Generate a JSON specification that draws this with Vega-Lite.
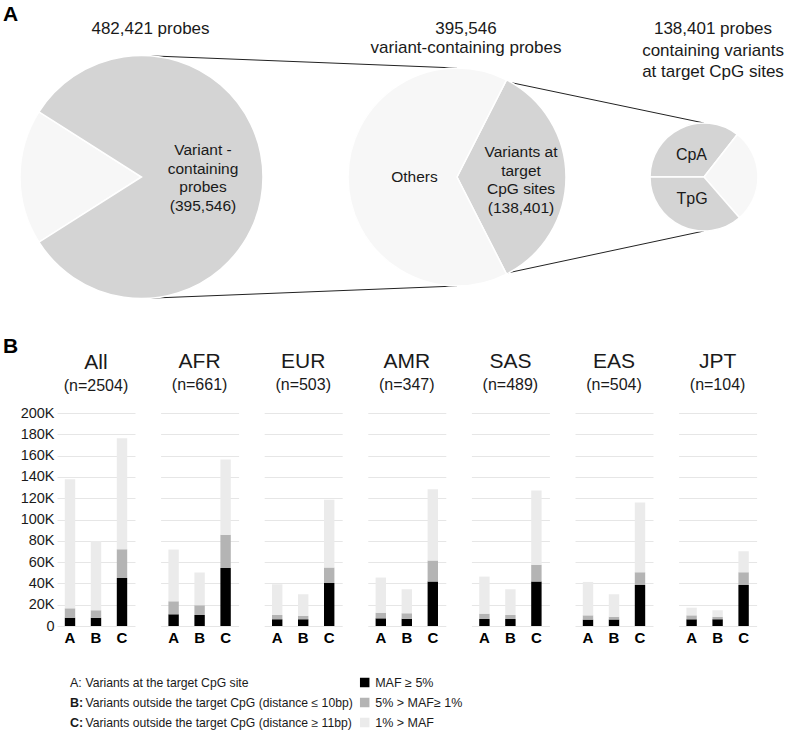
{
  "$schema": "https://vega.github.io/schema/vega-lite/v6.json",
  "padding": {"left": 3, "top": 4, "right": 0, "bottom": 0},
  "background": "white",
  "spacing": 4,
  "resolve": {"scale": {"color": "independent"}},
  "config": {
    "view": {"stroke": null},
    "font": "Liberation Sans",
    "title": {"font": "Liberation Sans", "fontSize": 21, "fontWeight": "normal", "color": "#1a1a1a", "subtitleFont": "Liberation Sans", "subtitleFontSize": 16, "subtitleColor": "#1a1a1a", "subtitlePadding": 5, "frame": "group", "anchor": "middle", "offset": 20},
    "axis": {"labelFont": "Liberation Sans", "titleFont": "Liberation Sans"},
    "text": {"font": "Liberation Sans"}
  },
  "datasets": {
    "pies": [
      {"stage": 1, "tier": 1, "slice": "Other probes", "shade": "light", "probes": 86875, "ord": 1, "label": ""},
      {"stage": 1, "tier": 1, "slice": "Variant-containing probes", "shade": "gray", "probes": 395546, "ord": 2, "label": "Variant -\ncontaining\nprobes\n(395,546)"},
      {"stage": 2, "tier": 1, "slice": "Variants at target CpG sites", "shade": "gray", "probes": 138401, "ord": 1, "label": "Variants at\ntarget\nCpG sites\n(138,401)"},
      {"stage": 2, "tier": 1, "slice": "Others", "shade": "light", "probes": 257145, "ord": 2, "label": "Others"},
      {"stage": 3, "tier": 1, "slice": "CpA", "shade": "gray", "probes": 49200, "ord": 1, "label": "CpA"},
      {"stage": 3, "tier": 1, "slice": "Other", "shade": "light", "probes": 38830, "ord": 2, "label": ""},
      {"stage": 3, "tier": 1, "slice": "TpG", "shade": "gray", "probes": 50371, "ord": 3, "label": "TpG"}
    ],
    "titles": [
      {"stage": 1, "tier": 0, "label": "482,421 probes"},
      {"stage": 2, "tier": 0, "label": "395,546\nvariant-containing probes"},
      {"stage": 3, "tier": 0, "label": "138,401 probes\ncontaining variants\nat target CpG sites"}
    ],
    "links": [
      {"from": 1, "to": 2, "fromAnchor": 1, "toAnchor": 2},
      {"from": 1, "to": 2, "fromAnchor": 8, "toAnchor": 7},
      {"from": 2, "to": 3, "fromAnchor": 3, "toAnchor": 4},
      {"from": 2, "to": 3, "fromAnchor": 6, "toAnchor": 5}
    ],
    "bars": [
      {"pop": "All", "cat": "A", "maf": "MAF ≥ 5%", "ord": 1, "count": 7800},
      {"pop": "All", "cat": "A", "maf": "5% > MAF≥ 1%", "ord": 2, "count": 8800},
      {"pop": "All", "cat": "A", "maf": "1% > MAF", "ord": 3, "count": 121300},
      {"pop": "All", "cat": "B", "maf": "MAF ≥ 5%", "ord": 1, "count": 7800},
      {"pop": "All", "cat": "B", "maf": "5% > MAF≥ 1%", "ord": 2, "count": 6900},
      {"pop": "All", "cat": "B", "maf": "1% > MAF", "ord": 3, "count": 65200},
      {"pop": "All", "cat": "C", "maf": "MAF ≥ 5%", "ord": 1, "count": 45100},
      {"pop": "All", "cat": "C", "maf": "5% > MAF≥ 1%", "ord": 2, "count": 27000},
      {"pop": "All", "cat": "C", "maf": "1% > MAF", "ord": 3, "count": 104100},
      {"pop": "AFR", "cat": "A", "maf": "MAF ≥ 5%", "ord": 1, "count": 11000},
      {"pop": "AFR", "cat": "A", "maf": "5% > MAF≥ 1%", "ord": 2, "count": 12200},
      {"pop": "AFR", "cat": "A", "maf": "1% > MAF", "ord": 3, "count": 48600},
      {"pop": "AFR", "cat": "B", "maf": "MAF ≥ 5%", "ord": 1, "count": 10300},
      {"pop": "AFR", "cat": "B", "maf": "5% > MAF≥ 1%", "ord": 2, "count": 9100},
      {"pop": "AFR", "cat": "B", "maf": "1% > MAF", "ord": 3, "count": 30800},
      {"pop": "AFR", "cat": "C", "maf": "MAF ≥ 5%", "ord": 1, "count": 54500},
      {"pop": "AFR", "cat": "C", "maf": "5% > MAF≥ 1%", "ord": 2, "count": 31100},
      {"pop": "AFR", "cat": "C", "maf": "1% > MAF", "ord": 3, "count": 70800},
      {"pop": "EUR", "cat": "A", "maf": "MAF ≥ 5%", "ord": 1, "count": 6300},
      {"pop": "EUR", "cat": "A", "maf": "5% > MAF≥ 1%", "ord": 2, "count": 4000},
      {"pop": "EUR", "cat": "A", "maf": "1% > MAF", "ord": 3, "count": 28900},
      {"pop": "EUR", "cat": "B", "maf": "MAF ≥ 5%", "ord": 1, "count": 6300},
      {"pop": "EUR", "cat": "B", "maf": "5% > MAF≥ 1%", "ord": 2, "count": 3400},
      {"pop": "EUR", "cat": "B", "maf": "1% > MAF", "ord": 3, "count": 20100},
      {"pop": "EUR", "cat": "C", "maf": "MAF ≥ 5%", "ord": 1, "count": 40400},
      {"pop": "EUR", "cat": "C", "maf": "5% > MAF≥ 1%", "ord": 2, "count": 14500},
      {"pop": "EUR", "cat": "C", "maf": "1% > MAF", "ord": 3, "count": 63600},
      {"pop": "AMR", "cat": "A", "maf": "MAF ≥ 5%", "ord": 1, "count": 7200},
      {"pop": "AMR", "cat": "A", "maf": "5% > MAF≥ 1%", "ord": 2, "count": 5300},
      {"pop": "AMR", "cat": "A", "maf": "1% > MAF", "ord": 3, "count": 33000},
      {"pop": "AMR", "cat": "B", "maf": "MAF ≥ 5%", "ord": 1, "count": 6900},
      {"pop": "AMR", "cat": "B", "maf": "5% > MAF≥ 1%", "ord": 2, "count": 5000},
      {"pop": "AMR", "cat": "B", "maf": "1% > MAF", "ord": 3, "count": 22600},
      {"pop": "AMR", "cat": "C", "maf": "MAF ≥ 5%", "ord": 1, "count": 41700},
      {"pop": "AMR", "cat": "C", "maf": "5% > MAF≥ 1%", "ord": 2, "count": 19700},
      {"pop": "AMR", "cat": "C", "maf": "1% > MAF", "ord": 3, "count": 67100},
      {"pop": "SAS", "cat": "A", "maf": "MAF ≥ 5%", "ord": 1, "count": 6600},
      {"pop": "SAS", "cat": "A", "maf": "5% > MAF≥ 1%", "ord": 2, "count": 5000},
      {"pop": "SAS", "cat": "A", "maf": "1% > MAF", "ord": 3, "count": 34800},
      {"pop": "SAS", "cat": "B", "maf": "MAF ≥ 5%", "ord": 1, "count": 6600},
      {"pop": "SAS", "cat": "B", "maf": "5% > MAF≥ 1%", "ord": 2, "count": 3700},
      {"pop": "SAS", "cat": "B", "maf": "1% > MAF", "ord": 3, "count": 24200},
      {"pop": "SAS", "cat": "C", "maf": "MAF ≥ 5%", "ord": 1, "count": 41700},
      {"pop": "SAS", "cat": "C", "maf": "5% > MAF≥ 1%", "ord": 2, "count": 15700},
      {"pop": "SAS", "cat": "C", "maf": "1% > MAF", "ord": 3, "count": 69900},
      {"pop": "EAS", "cat": "A", "maf": "MAF ≥ 5%", "ord": 1, "count": 6000},
      {"pop": "EAS", "cat": "A", "maf": "5% > MAF≥ 1%", "ord": 2, "count": 4000},
      {"pop": "EAS", "cat": "A", "maf": "1% > MAF", "ord": 3, "count": 31400},
      {"pop": "EAS", "cat": "B", "maf": "MAF ≥ 5%", "ord": 1, "count": 6000},
      {"pop": "EAS", "cat": "B", "maf": "5% > MAF≥ 1%", "ord": 2, "count": 2800},
      {"pop": "EAS", "cat": "B", "maf": "1% > MAF", "ord": 3, "count": 21000},
      {"pop": "EAS", "cat": "C", "maf": "MAF ≥ 5%", "ord": 1, "count": 38600},
      {"pop": "EAS", "cat": "C", "maf": "5% > MAF≥ 1%", "ord": 2, "count": 11900},
      {"pop": "EAS", "cat": "C", "maf": "1% > MAF", "ord": 3, "count": 65500},
      {"pop": "JPT", "cat": "A", "maf": "MAF ≥ 5%", "ord": 1, "count": 6300},
      {"pop": "JPT", "cat": "A", "maf": "5% > MAF≥ 1%", "ord": 2, "count": 3700},
      {"pop": "JPT", "cat": "A", "maf": "1% > MAF", "ord": 3, "count": 7200},
      {"pop": "JPT", "cat": "B", "maf": "MAF ≥ 5%", "ord": 1, "count": 6300},
      {"pop": "JPT", "cat": "B", "maf": "5% > MAF≥ 1%", "ord": 2, "count": 2500},
      {"pop": "JPT", "cat": "B", "maf": "1% > MAF", "ord": 3, "count": 5900},
      {"pop": "JPT", "cat": "C", "maf": "MAF ≥ 5%", "ord": 1, "count": 38600},
      {"pop": "JPT", "cat": "C", "maf": "5% > MAF≥ 1%", "ord": 2, "count": 11900},
      {"pop": "JPT", "cat": "C", "maf": "1% > MAF", "ord": 3, "count": 19700}
    ],
    "keys": [
      {"col": "key", "row": 1, "letter": "A:", "text": "Variants at the target CpG site"},
      {"col": "key", "row": 2, "letter": "B:", "text": "Variants outside the target CpG (distance ≤ 10bp)"},
      {"col": "key", "row": 3, "letter": "C:", "text": "Variants outside the target CpG (distance ≥ 11bp)"}
    ],
    "mafKey": [
      {"col": "legend", "row": 1, "maf": "MAF ≥ 5%"},
      {"col": "legend", "row": 2, "maf": "5% > MAF≥ 1%"},
      {"col": "legend", "row": 3, "maf": "1% > MAF"}
    ]
  },
  "vconcat": [
    {
      "width": 733,
      "height": 294,
      "title": {"text": "A", "anchor": "start", "fontSize": 21, "fontWeight": "bold", "color": "#000000", "offset": -5, "frame": "group", "dx": -54},
      "resolve": {"scale": {"theta": "independent", "y": "independent", "x": "independent"}},
      "layer": [
        {
          "data": {"name": "links"},
          "mark": {"type": "rule", "color": "#222222", "strokeWidth": 1},
          "encoding": {
            "x": {"field": "from", "type": "quantitative", "scale": {"domain": [1, 2, 3], "range": [84.5, 400, 647], "zero": false, "nice": false}, "axis": null},
            "x2": {"field": "to"},
            "y": {"field": "fromAnchor", "type": "quantitative", "scale": {"domain": [1, 2, 3, 4, 5, 6, 7, 8], "range": [17.5, 30, 33.3, 85, 193, 245.7, 248, 260.5], "zero": false, "nice": false}, "axis": null},
            "y2": {"field": "toAnchor"}
          }
        },
        {
          "data": {"name": "pies"},
          "transform": [{"filter": "datum.stage === 1"}],
          "encoding": {
            "x": {"field": "stage", "type": "quantitative", "scale": {"domain": [1, 2, 3], "range": [84.5, 400, 647], "zero": false, "nice": false}, "axis": null},
            "y": {"field": "tier", "type": "quantitative", "scale": {"domain": [0, 1], "range": [-4, 139], "zero": false, "nice": false}, "axis": null},
            "theta": {"field": "probes", "type": "quantitative", "stack": true, "scale": {"range": [4.1467, 10.4299]}},
            "order": {"field": "ord", "type": "quantitative"},
            "color": {"field": "shade", "type": "nominal", "scale": {"domain": ["gray", "light"], "range": ["#d4d4d4", "#f7f7f7"]}, "legend": null}
          },
          "layer": [
            {"mark": {"type": "arc", "outerRadius": 121.5, "stroke": "white", "strokeWidth": 1.5}},
            {"mark": {"type": "text", "radius": 61.5, "fontSize": 15.5, "lineBreak": "\n", "lineHeight": 18.5, "baseline": "middle", "align": "center", "dy": -27},
             "encoding": {"text": {"field": "label"}, "color": {"value": "#1a1a1a"}}}
          ]
        },
        {
          "data": {"name": "pies"},
          "transform": [{"filter": "datum.stage === 2"}],
          "encoding": {
            "x": {"field": "stage", "type": "quantitative", "scale": {"domain": [1, 2, 3], "range": [84.5, 400, 647], "zero": false, "nice": false}, "axis": null},
            "y": {"field": "tier", "type": "quantitative", "scale": {"domain": [0, 1], "range": [-4, 139], "zero": false, "nice": false}, "axis": null},
            "theta": {"field": "probes", "type": "quantitative", "stack": true, "scale": {"range": [0.4716, 6.7548]}},
            "order": {"field": "ord", "type": "quantitative"},
            "color": {"field": "shade", "type": "nominal", "scale": {"domain": ["gray", "light"], "range": ["#d4d4d4", "#f7f7f7"]}, "legend": null}
          },
          "layer": [
            {"mark": {"type": "arc", "outerRadius": 109, "stroke": "white", "strokeWidth": 1.5}},
            {"mark": {"type": "text", "radius": 64, "fontSize": 15.5, "lineBreak": "\n", "lineHeight": 18.5, "baseline": "middle", "align": "center", "dy": -25},
             "encoding": {"text": {"condition": {"test": "datum.shade === 'gray'", "field": "label"}, "value": ""}, "color": {"value": "#1a1a1a"}}},
            {"mark": {"type": "text", "radius": 42.5, "fontSize": 15.5, "baseline": "middle", "align": "center"},
             "encoding": {"text": {"condition": {"test": "datum.shade === 'light'", "field": "label"}, "value": ""}, "color": {"value": "#1a1a1a"}}}
          ]
        },
        {
          "data": {"name": "pies"},
          "transform": [{"filter": "datum.stage === 3"}],
          "encoding": {
            "x": {"field": "stage", "type": "quantitative", "scale": {"domain": [1, 2, 3], "range": [84.5, 400, 647], "zero": false, "nice": false}, "axis": null},
            "y": {"field": "tier", "type": "quantitative", "scale": {"domain": [0, 1], "range": [-4, 139], "zero": false, "nice": false}, "axis": null},
            "theta": {"field": "probes", "type": "quantitative", "stack": true, "scale": {"range": [4.7124, 10.9956]}},
            "order": {"field": "ord", "type": "quantitative"},
            "color": {"field": "shade", "type": "nominal", "scale": {"domain": ["gray", "light"], "range": ["#d4d4d4", "#f7f7f7"]}, "legend": null}
          },
          "layer": [
            {"mark": {"type": "arc", "outerRadius": 54, "stroke": "white", "strokeWidth": 1.5}},
            {"mark": {"type": "text", "radius": 24, "fontSize": 16, "baseline": "middle", "align": "center", "dx": -2},
             "encoding": {"text": {"field": "label"}, "color": {"value": "#1a1a1a"}}}
          ]
        },
        {
          "data": {"name": "titles"},
          "transform": [{"filter": "datum.stage < 3"}],
          "mark": {"type": "text", "fontSize": 17, "lineBreak": "\n", "lineHeight": 18.7, "baseline": "alphabetic", "align": "center", "dx": 9, "color": "#1a1a1a"},
          "encoding": {
            "x": {"field": "stage", "type": "quantitative", "scale": {"domain": [1, 2, 3], "range": [84.5, 400, 647], "zero": false, "nice": false}, "axis": null},
            "y": {"field": "tier", "type": "quantitative", "scale": {"domain": [0, 1], "range": [-4, 139], "zero": false, "nice": false}, "axis": null},
            "text": {"field": "label"}
          }
        },
        {
          "data": {"name": "titles"},
          "transform": [{"filter": "datum.stage === 3"}],
          "mark": {"type": "text", "fontSize": 17, "lineBreak": "\n", "lineHeight": 21.5, "baseline": "alphabetic", "align": "center", "dx": 9, "color": "#1a1a1a"},
          "encoding": {
            "x": {"field": "stage", "type": "quantitative", "scale": {"domain": [1, 2, 3], "range": [84.5, 400, 647], "zero": false, "nice": false}, "axis": null},
            "y": {"field": "tier", "type": "quantitative", "scale": {"domain": [0, 1], "range": [-4, 139], "zero": false, "nice": false}, "axis": null},
            "text": {"field": "label"}
          }
        }
      ]
    },
    {
      "spacing": 25.6,
      "title": {"text": "B", "anchor": "start", "frame": "group", "dx": -54, "offset": -6, "fontSize": 21, "fontWeight": "bold", "color": "#000000"},
      "hconcat": [
        {
          "width": 78, "height": 213,
          "title": {"text": "All", "subtitle": "(n=2504)", "dy": 9},
          "data": {"name": "bars"},
          "transform": [{"filter": "datum.pop === 'All'"}],
          "mark": {"type": "bar"},
          "encoding": {
            "x": {"field": "cat", "type": "nominal", "scale": {"domain": ["A", "B", "C"], "paddingInner": 0.6, "paddingOuter": 0.3}, "axis": {"title": null, "domain": false, "ticks": false, "labelAngle": 0, "labelFontWeight": "bold", "labelFontSize": 15, "labelColor": "#000000", "labelPadding": 4}},
            "y": {"field": "count", "type": "quantitative", "stack": "zero", "scale": {"domain": [0, 200000], "nice": false}, "axis": {"values": [0, 20000, 40000, 60000, 80000, 100000, 120000, 140000, 160000, 180000, 200000], "labelExpr": "datum.value === 0 ? '0' : (datum.value / 1000) + 'K'", "grid": true, "gridColor": "#e6e6e6", "domain": false, "ticks": false, "labelPadding": 3, "labelFontSize": 14.5, "labelColor": "#1a1a1a", "title": null}},
            "color": {"field": "maf", "type": "nominal", "scale": {"domain": ["MAF ≥ 5%", "5% > MAF≥ 1%", "1% > MAF"], "range": ["#000000", "#b4b4b4", "#ebebeb"]}, "legend": null},
            "order": {"field": "ord", "type": "quantitative"}
          }
        },
        {
          "width": 78, "height": 213,
          "title": {"text": "AFR", "subtitle": "(n=661)"},
          "data": {"name": "bars"},
          "transform": [{"filter": "datum.pop === 'AFR'"}],
          "mark": {"type": "bar"},
          "encoding": {
            "x": {"field": "cat", "type": "nominal", "scale": {"domain": ["A", "B", "C"], "paddingInner": 0.6, "paddingOuter": 0.3}, "axis": {"title": null, "domain": false, "ticks": false, "labelAngle": 0, "labelFontWeight": "bold", "labelFontSize": 15, "labelColor": "#000000", "labelPadding": 4}},
            "y": {"field": "count", "type": "quantitative", "stack": "zero", "scale": {"domain": [0, 200000], "nice": false}, "axis": {"values": [0, 20000, 40000, 60000, 80000, 100000, 120000, 140000, 160000, 180000, 200000], "grid": true, "gridColor": "#e6e6e6", "domain": false, "ticks": false, "labels": false, "title": null}},
            "color": {"field": "maf", "type": "nominal", "scale": {"domain": ["MAF ≥ 5%", "5% > MAF≥ 1%", "1% > MAF"], "range": ["#000000", "#b4b4b4", "#ebebeb"]}, "legend": null},
            "order": {"field": "ord", "type": "quantitative"}
          }
        },
        {
          "width": 78, "height": 213,
          "title": {"text": "EUR", "subtitle": "(n=503)"},
          "data": {"name": "bars"},
          "transform": [{"filter": "datum.pop === 'EUR'"}],
          "mark": {"type": "bar"},
          "encoding": {
            "x": {"field": "cat", "type": "nominal", "scale": {"domain": ["A", "B", "C"], "paddingInner": 0.6, "paddingOuter": 0.3}, "axis": {"title": null, "domain": false, "ticks": false, "labelAngle": 0, "labelFontWeight": "bold", "labelFontSize": 15, "labelColor": "#000000", "labelPadding": 4}},
            "y": {"field": "count", "type": "quantitative", "stack": "zero", "scale": {"domain": [0, 200000], "nice": false}, "axis": {"values": [0, 20000, 40000, 60000, 80000, 100000, 120000, 140000, 160000, 180000, 200000], "grid": true, "gridColor": "#e6e6e6", "domain": false, "ticks": false, "labels": false, "title": null}},
            "color": {"field": "maf", "type": "nominal", "scale": {"domain": ["MAF ≥ 5%", "5% > MAF≥ 1%", "1% > MAF"], "range": ["#000000", "#b4b4b4", "#ebebeb"]}, "legend": null},
            "order": {"field": "ord", "type": "quantitative"}
          }
        },
        {
          "width": 78, "height": 213,
          "title": {"text": "AMR", "subtitle": "(n=347)"},
          "data": {"name": "bars"},
          "transform": [{"filter": "datum.pop === 'AMR'"}],
          "mark": {"type": "bar"},
          "encoding": {
            "x": {"field": "cat", "type": "nominal", "scale": {"domain": ["A", "B", "C"], "paddingInner": 0.6, "paddingOuter": 0.3}, "axis": {"title": null, "domain": false, "ticks": false, "labelAngle": 0, "labelFontWeight": "bold", "labelFontSize": 15, "labelColor": "#000000", "labelPadding": 4}},
            "y": {"field": "count", "type": "quantitative", "stack": "zero", "scale": {"domain": [0, 200000], "nice": false}, "axis": {"values": [0, 20000, 40000, 60000, 80000, 100000, 120000, 140000, 160000, 180000, 200000], "grid": true, "gridColor": "#e6e6e6", "domain": false, "ticks": false, "labels": false, "title": null}},
            "color": {"field": "maf", "type": "nominal", "scale": {"domain": ["MAF ≥ 5%", "5% > MAF≥ 1%", "1% > MAF"], "range": ["#000000", "#b4b4b4", "#ebebeb"]}, "legend": null},
            "order": {"field": "ord", "type": "quantitative"}
          }
        },
        {
          "width": 78, "height": 213,
          "title": {"text": "SAS", "subtitle": "(n=489)"},
          "data": {"name": "bars"},
          "transform": [{"filter": "datum.pop === 'SAS'"}],
          "mark": {"type": "bar"},
          "encoding": {
            "x": {"field": "cat", "type": "nominal", "scale": {"domain": ["A", "B", "C"], "paddingInner": 0.6, "paddingOuter": 0.3}, "axis": {"title": null, "domain": false, "ticks": false, "labelAngle": 0, "labelFontWeight": "bold", "labelFontSize": 15, "labelColor": "#000000", "labelPadding": 4}},
            "y": {"field": "count", "type": "quantitative", "stack": "zero", "scale": {"domain": [0, 200000], "nice": false}, "axis": {"values": [0, 20000, 40000, 60000, 80000, 100000, 120000, 140000, 160000, 180000, 200000], "grid": true, "gridColor": "#e6e6e6", "domain": false, "ticks": false, "labels": false, "title": null}},
            "color": {"field": "maf", "type": "nominal", "scale": {"domain": ["MAF ≥ 5%", "5% > MAF≥ 1%", "1% > MAF"], "range": ["#000000", "#b4b4b4", "#ebebeb"]}, "legend": null},
            "order": {"field": "ord", "type": "quantitative"}
          }
        },
        {
          "width": 78, "height": 213,
          "title": {"text": "EAS", "subtitle": "(n=504)"},
          "data": {"name": "bars"},
          "transform": [{"filter": "datum.pop === 'EAS'"}],
          "mark": {"type": "bar"},
          "encoding": {
            "x": {"field": "cat", "type": "nominal", "scale": {"domain": ["A", "B", "C"], "paddingInner": 0.6, "paddingOuter": 0.3}, "axis": {"title": null, "domain": false, "ticks": false, "labelAngle": 0, "labelFontWeight": "bold", "labelFontSize": 15, "labelColor": "#000000", "labelPadding": 4}},
            "y": {"field": "count", "type": "quantitative", "stack": "zero", "scale": {"domain": [0, 200000], "nice": false}, "axis": {"values": [0, 20000, 40000, 60000, 80000, 100000, 120000, 140000, 160000, 180000, 200000], "grid": true, "gridColor": "#e6e6e6", "domain": false, "ticks": false, "labels": false, "title": null}},
            "color": {"field": "maf", "type": "nominal", "scale": {"domain": ["MAF ≥ 5%", "5% > MAF≥ 1%", "1% > MAF"], "range": ["#000000", "#b4b4b4", "#ebebeb"]}, "legend": null},
            "order": {"field": "ord", "type": "quantitative"}
          }
        },
        {
          "width": 78, "height": 213,
          "title": {"text": "JPT", "subtitle": "(n=104)"},
          "data": {"name": "bars"},
          "transform": [{"filter": "datum.pop === 'JPT'"}],
          "mark": {"type": "bar"},
          "encoding": {
            "x": {"field": "cat", "type": "nominal", "scale": {"domain": ["A", "B", "C"], "paddingInner": 0.6, "paddingOuter": 0.3}, "axis": {"title": null, "domain": false, "ticks": false, "labelAngle": 0, "labelFontWeight": "bold", "labelFontSize": 15, "labelColor": "#000000", "labelPadding": 4}},
            "y": {"field": "count", "type": "quantitative", "stack": "zero", "scale": {"domain": [0, 200000], "nice": false}, "axis": {"values": [0, 20000, 40000, 60000, 80000, 100000, 120000, 140000, 160000, 180000, 200000], "grid": true, "gridColor": "#e6e6e6", "domain": false, "ticks": false, "labels": false, "title": null}},
            "color": {"field": "maf", "type": "nominal", "scale": {"domain": ["MAF ≥ 5%", "5% > MAF≥ 1%", "1% > MAF"], "range": ["#000000", "#b4b4b4", "#ebebeb"]}, "legend": null},
            "order": {"field": "ord", "type": "quantitative"}
          }
        }
      ]
    },
    {
      "width": 733,
      "height": 85,
      "layer": [
        {
          "data": {"name": "keys"},
          "transform": [{"filter": "datum.row === 1"}],
          "mark": {"type": "text", "align": "left", "baseline": "middle", "fontSize": 12.5, "font": "Liberation Sans", "color": "#1a1a1a"},
          "encoding": {
            "x": {"field": "col", "type": "nominal", "scale": {"type": "point", "domain": ["key", "legend"], "range": [13, 307.7], "padding": 0}, "axis": null},
            "y": {"field": "row", "type": "nominal", "scale": {"type": "point", "domain": [1, 2, 3], "range": [33.5, 73.5], "padding": 0}, "axis": null},
            "text": {"field": "letter"}
          }
        },
        {
          "data": {"name": "keys"},
          "transform": [{"filter": "datum.row > 1"}],
          "mark": {"type": "text", "align": "left", "baseline": "middle", "fontSize": 12.5, "fontWeight": "bold", "font": "Liberation Sans", "color": "#1a1a1a"},
          "encoding": {
            "x": {"field": "col", "type": "nominal", "scale": {"type": "point", "domain": ["key", "legend"], "range": [13, 307.7], "padding": 0}, "axis": null},
            "y": {"field": "row", "type": "nominal", "scale": {"type": "point", "domain": [1, 2, 3], "range": [33.5, 73.5], "padding": 0}, "axis": null},
            "text": {"field": "letter"}
          }
        },
        {
          "data": {"name": "keys"},
          "mark": {"type": "text", "align": "left", "baseline": "middle", "fontSize": 12.2, "dx": 15.5, "font": "Liberation Sans", "color": "#1a1a1a"},
          "encoding": {
            "x": {"field": "col", "type": "nominal", "scale": {"type": "point", "domain": ["key", "legend"], "range": [13, 307.7], "padding": 0}, "axis": null},
            "y": {"field": "row", "type": "nominal", "scale": {"type": "point", "domain": [1, 2, 3], "range": [33.5, 73.5], "padding": 0}, "axis": null},
            "text": {"field": "text"}
          }
        },
        {
          "data": {"name": "mafKey"},
          "mark": {"type": "point", "shape": "square", "filled": true, "size": 90, "opacity": 1},
          "encoding": {
            "x": {"field": "col", "type": "nominal", "scale": {"type": "point", "domain": ["key", "legend"], "range": [13, 307.7], "padding": 0}, "axis": null},
            "y": {"field": "row", "type": "nominal", "scale": {"type": "point", "domain": [1, 2, 3], "range": [33.5, 73.5], "padding": 0}, "axis": null},
            "color": {"field": "maf", "type": "nominal", "scale": {"domain": ["MAF ≥ 5%", "5% > MAF≥ 1%", "1% > MAF"], "range": ["#000000", "#b4b4b4", "#ebebeb"]}, "legend": null}
          }
        },
        {
          "data": {"name": "mafKey"},
          "mark": {"type": "text", "align": "left", "baseline": "middle", "fontSize": 12.5, "dx": 10.5, "font": "Liberation Sans", "color": "#1a1a1a"},
          "encoding": {
            "x": {"field": "col", "type": "nominal", "scale": {"type": "point", "domain": ["key", "legend"], "range": [13, 307.7], "padding": 0}, "axis": null},
            "y": {"field": "row", "type": "nominal", "scale": {"type": "point", "domain": [1, 2, 3], "range": [33.5, 73.5], "padding": 0}, "axis": null},
            "text": {"field": "maf"}
          }
        }
      ]
    }
  ]
}
